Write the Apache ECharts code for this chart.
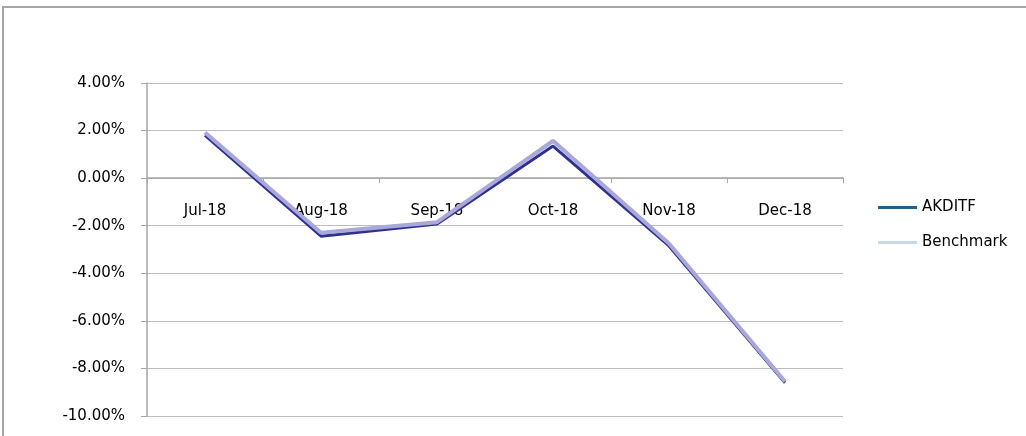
<!DOCTYPE html>
<html>
<head>
<meta charset="utf-8">
<script src="https://cdn.jsdelivr.net/npm/echarts@6/dist/echarts.min.js"></script>
<style>
html,body{margin:0;padding:0;background:#fff;}
#chart{width:1026px;height:436px;}
</style>
</head>
<body>
<div id="chart"></div>
<script>
const categories = ['Jul-18','Aug-18','Sep-18','Oct-18','Nov-18','Dec-18'];
const akditf = [1.80, -2.44, -1.93, 1.35, -2.85, -8.60];
const benchmark = [1.92, -2.30, -1.85, 1.57, -2.75, -8.55];
const yMin = -10, yMax = 4, yStep = 2;

const gridTop = 83, gridBottom = 20, H = 436;
const plotH = H - gridTop - gridBottom;
const zeroOffset = plotH * (0 - yMin) / (yMax - yMin);

const chart = echarts.init(document.getElementById('chart'));
const font = 'DejaVu Sans';
chart.setOption({
  animation: false,
  backgroundColor: '#fff',
  graphic: [{
    type: 'rect',
    shape: {x: 3, y: 7, width: 1040, height: 450},
    style: {fill: 'none', stroke: '#a6a6a6', lineWidth: 2},
    silent: true
  }],
  grid: {left: 147, right: 183, top: gridTop, bottom: gridBottom, containLabel: false, outerBoundsMode: 'none'},
  legend: {
    orient: 'vertical',
    left: 873,
    top: 195,
    itemWidth: 39,
    itemHeight: 3,
    itemGap: 20,
    textStyle: {fontFamily: font, fontSize: 15, color: '#000'},
    data: [
      {name: 'AKDITF', icon: 'rect', itemStyle: {color: '#245f8c'}},
      {name: 'Benchmark', icon: 'rect', itemStyle: {color: '#c6d9e9'}}
    ]
  },
  xAxis: {
    type: 'category',
    data: categories,
    boundaryGap: true,
    position: 'bottom',
    offset: -zeroOffset,
    axisLine: {onZero: false, lineStyle: {color: '#a6a6a6', width: 1.5}},
    axisTick: {show: true, interval: 0, length: 5, lineStyle: {color: '#a6a6a6'}},
    axisLabel: {margin: 25, fontFamily: font, fontSize: 15, color: '#000', interval: 0}
  },
  yAxis: {
    type: 'value',
    min: yMin, max: yMax, interval: yStep,
    axisLine: {show: true, lineStyle: {color: '#a6a6a6', width: 1.5}},
    axisTick: {show: true, length: 6, lineStyle: {color: '#a6a6a6'}},
    splitLine: {show: true, lineStyle: {color: '#bdbdbd', width: 1.2}},
    axisLabel: {margin: 22, fontFamily: font, fontSize: 15, color: '#000',
      formatter: v => v.toFixed(2) + '%'}
  },
  series: [
    {name: 'AKDITF', type: 'line', data: akditf, showSymbol: false, symbol: 'none',
      lineStyle: {color: '#2e3192', width: 3}, itemStyle: {color: '#2e3192'}, z: 2},
    {name: 'Benchmark', type: 'line', data: benchmark, showSymbol: false, symbol: 'none',
      lineStyle: {color: '#a9a8d9', width: 4}, itemStyle: {color: '#a9a8d9'}, z: 3}
  ]
});
</script>
</body>
</html>
